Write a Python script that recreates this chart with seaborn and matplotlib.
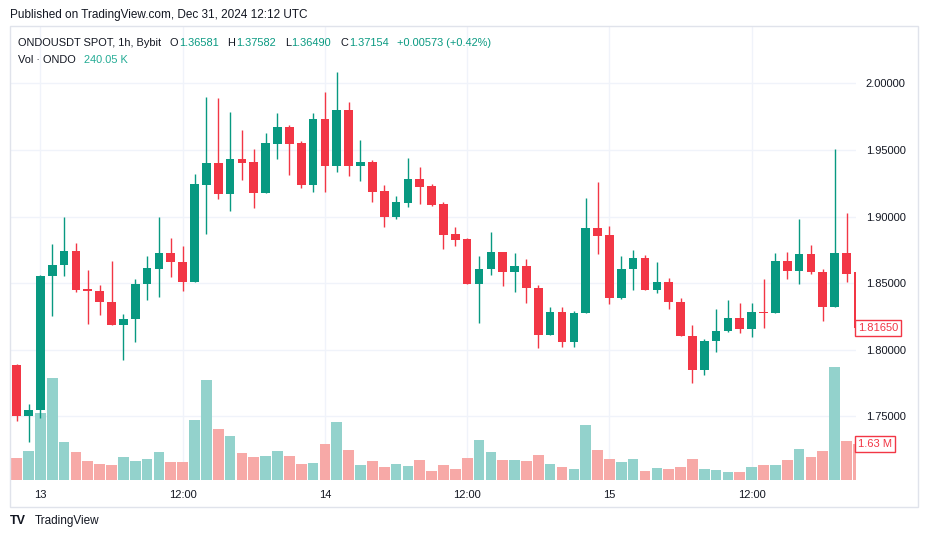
import numpy as np
import pandas as pd
import matplotlib
matplotlib.use("Agg")
import matplotlib.pyplot as plt
import matplotlib.transforms as mtransforms
from matplotlib.patches import Rectangle
import seaborn as sns

# ONDOUSDT 1h candles, 12 Dec 22:00 -> 15 Dec 21:00
opens = [1.78875, 1.75, 1.7545, 1.855, 1.86325, 1.87425, 1.84575, 1.84425, 1.836, 1.81875,
         1.82275, 1.849, 1.86075, 1.87275, 1.866, 1.8505, 1.924, 1.94025, 1.91725, 1.94325,
         1.941, 1.918, 1.95475, 1.96725, 1.95525, 1.924, 1.97325, 1.93825, 1.98, 1.93825,
         1.941, 1.91925, 1.9, 1.9105, 1.92825, 1.923, 1.9095, 1.887, 1.88325, 1.849,
         1.86025, 1.8735, 1.858, 1.863, 1.8465, 1.81075, 1.8285, 1.8055, 1.82725, 1.8915,
         1.88625, 1.8385, 1.86025, 1.869, 1.8445, 1.851, 1.836, 1.8105, 1.7845, 1.80625,
         1.81375, 1.824, 1.81525, 1.8285, 1.82725, 1.86675, 1.85875, 1.872, 1.8585, 1.83175,
         1.87275, 1.858]
highs = [1.7895, 1.7595, 1.85625, 1.8795, 1.89975, 1.88025, 1.86, 1.84875, 1.86625, 1.827,
         1.85325, 1.8705, 1.89975, 1.884, 1.878, 1.932, 1.98975, 1.989, 1.9785, 1.965,
         1.95075, 1.9628, 1.97775, 1.96875, 1.95675, 1.97775, 1.9935, 2.0085, 1.986, 1.9575,
         1.9425, 1.92375, 1.9155, 1.944, 1.93725, 1.9245, 1.911, 1.89225, 1.884, 1.8705,
         1.8885, 1.8735, 1.87275, 1.86825, 1.84875, 1.83225, 1.83225, 1.82925, 1.914, 1.926,
         1.893, 1.87, 1.875, 1.87125, 1.866, 1.854, 1.839, 1.81875, 1.80825, 1.83075,
         1.8375, 1.83525, 1.83525, 1.85325, 1.87275, 1.8735, 1.89825, 1.87875, 1.86075, 1.95075,
         1.90275, 1.858]
lows = [1.74625, 1.7305, 1.74875, 1.825, 1.855, 1.843, 1.8195, 1.82625, 1.81875, 1.792,
        1.8055, 1.837, 1.83975, 1.85425, 1.84375, 1.8505, 1.88725, 1.9135, 1.9045, 1.92775,
        1.90675, 1.918, 1.9435, 1.9315, 1.92175, 1.91875, 1.91875, 1.93375, 1.93075, 1.927,
        1.91125, 1.8925, 1.8985, 1.9075, 1.90975, 1.90825, 1.876, 1.87825, 1.849, 1.81975,
        1.85575, 1.8475, 1.843, 1.83475, 1.801, 1.81075, 1.80175, 1.80175, 1.82725, 1.8715,
        1.834, 1.83775, 1.8445, 1.8445, 1.84225, 1.83025, 1.81, 1.77475, 1.78075, 1.798,
        1.813, 1.8122, 1.80925, 1.816, 1.82725, 1.85275, 1.849, 1.8565, 1.82125, 1.83175,
        1.8505, 1.8165]
closes = [1.75, 1.755, 1.8555, 1.86375, 1.87425, 1.845, 1.84375, 1.8355, 1.81875, 1.82325,
          1.8495, 1.8615, 1.87275, 1.8655, 1.8505, 1.9245, 1.94025, 1.91725, 1.94325, 1.9405,
          1.918, 1.95525, 1.96725, 1.95475, 1.924, 1.97325, 1.93825, 1.98, 1.93825, 1.941,
          1.91875, 1.9, 1.911, 1.92825, 1.9225, 1.909, 1.8865, 1.88275, 1.849, 1.86075,
          1.8735, 1.858, 1.863, 1.846, 1.81075, 1.8285, 1.8055, 1.82775, 1.8915, 1.88575,
          1.8385, 1.86075, 1.869, 1.8445, 1.851, 1.8355, 1.81, 1.7845, 1.80675, 1.81425,
          1.824, 1.81525, 1.8285, 1.82775, 1.86675, 1.85875, 1.872, 1.858, 1.83175, 1.87275,
          1.857, 1.8165]
# volume in thousands of ONDO
volumes = [1011, 1328, 3048, 4633, 1735, 1283, 875, 739, 694, 1056,
           875, 966, 1268, 815, 815, 2716, 4527, 2309, 1992, 1222,
           1041, 1086, 1313, 1086, 724, 770, 1630, 2626, 1358, 679,
           860, 589, 724, 634, 905, 407, 679, 498, 996, 1811,
           1268, 905, 905, 860, 1132, 724, 589, 498, 2490, 1358,
           951, 815, 951, 407, 543, 498, 589, 951, 498, 453,
           362, 362, 589, 679, 679, 905, 1403, 1041, 1313, 5116,
           1766, 1630]

time_ticks = [2, 14, 26, 38, 50, 62]
time_labels = ["13", "12:00", "14", "12:00", "15", "12:00"]
price_ticks = [1.75, 1.80, 1.85, 1.90, 1.95, 2.00]

UP = "#089981"
DOWN = "#F23645"
VUP = "#93D2CC"
VDOWN = "#F7A9A7"
TXT = "#131722"
GRID = "#F0F3FA"

df = pd.DataFrame({"idx": np.arange(len(opens)), "open": opens, "high": highs,
                   "low": lows, "close": closes, "vol": volumes})
df["dir"] = np.where(df["close"] >= df["open"], "up", "down")

sns.set_theme(style="white")
plt.rcParams["font.family"] = ["Liberation Sans", "DejaVu Sans"]

W, H = 928, 543
fig = plt.figure(figsize=(W / 100, H / 100), dpi=100)
rect = [10 / W, (H - 480) / H, (856 - 10) / W, (480 - 27) / H]

axv = fig.add_axes(rect)
ax = fig.add_axes(rect, sharex=axv)
ax.patch.set_visible(False)

# volume histogram (bottom layer)
sns.barplot(data=df, x="idx", y="vol", hue="dir", palette={"up": VUP, "down": VDOWN},
            native_scale=True, width=0.9, dodge=False, legend=False, errorbar=None,
            saturation=1, linewidth=0, ax=axv)
axv.set_ylim(0, 453 * 45.28)

# price range
ax.set_xlim(-0.565, 70.8)
ax.set_ylim(1.7022, 2.0423)

# grid lines behind the volume bars
blend = mtransforms.blended_transform_factory(axv.transAxes, ax.transData)
axv.hlines(price_ticks, 0, 1, transform=blend, color=GRID, lw=1, zorder=0)
for t in time_ticks:
    axv.axvline(t, color=GRID, lw=1, zorder=0)

# candles
colors = np.where(df["dir"] == "up", UP, DOWN)
ax.vlines(df["idx"], df["low"], df["high"], colors=colors, lw=1.0, zorder=2)
body = np.maximum((df["close"] - df["open"]).abs(), 0.0008)
ax.bar(df["idx"], body, bottom=np.minimum(df["open"], df["close"]), width=0.73,
       color=colors, lw=0, zorder=3)

for a in (ax, axv):
    for s in a.spines.values():
        s.set_visible(False)
    a.set_xlabel("")
    a.set_ylabel("")

axv.set_yticks([])
axv.set_xticks(time_ticks)
axv.set_xticklabels(time_labels)
axv.tick_params(axis="x", length=0, pad=7, labelsize=8, colors=TXT)

ax.yaxis.tick_right()
ax.set_yticks(price_ticks)
ax.set_yticklabels([f"{p:.5f}" for p in price_ticks])
ax.tick_params(axis="y", length=0, pad=7, labelsize=8, colors=TXT)
ax.tick_params(axis="x", bottom=False, labelbottom=False)

# last price / last volume tags
ax.text(1.0025, 1.8165, "1.81650", transform=mtransforms.blended_transform_factory(ax.transAxes, ax.transData),
        ha="left", va="center", fontsize=8, color=DOWN,
        bbox=dict(boxstyle="square,pad=0.25", fc="white", ec=DOWN, lw=1))
axv.text(1.0025, 1630, "1.63 M", transform=mtransforms.blended_transform_factory(axv.transAxes, axv.transData),
         ha="left", va="center", fontsize=8, color=DOWN,
         bbox=dict(boxstyle="square,pad=0.25", fc="white", ec=DOWN, lw=1))

# outer frame
fig.add_artist(Rectangle((10 / W, (H - 507) / H), 908 / W, (507 - 26) / H,
                         transform=fig.transFigure, fill=False, ec="#E0E3EB", lw=1))

def px(x, y):
    return x / W, 1 - y / H

fig.text(*px(10, 15), "Published on TradingView.com, Dec 31, 2024 12:12 UTC",
         fontsize=8.5, color=TXT, va="center")

legend = [(18, "ONDOUSDT SPOT, 1h, Bybit", TXT), (170, "O", TXT), (179, "1.36581", UP),
          (227, "H", TXT), (236, "1.37582", UP), (285, "L", TXT), (291.5, "1.36490", UP),
          (341, "C", TXT), (349, "1.37154", UP), (397, "+0.00573 (+0.42%)", UP)]
for x, s, c in legend:
    fig.text(*px(x, 43), s, fontsize=7.9, color=c, va="center")
fig.text(*px(18, 60), "Vol · ONDO", fontsize=7.9, color=TXT, va="center")
fig.text(*px(84, 60), "240.05 K", fontsize=7.9, color="#22AB94", va="center")

fig.text(*px(10, 521), "TV", fontsize=9, fontweight="heavy", color=TXT, va="center")
fig.text(*px(35, 521), "TradingView", fontsize=8.5, color=TXT, va="center")

fig.savefig("out.png", dpi=100)
